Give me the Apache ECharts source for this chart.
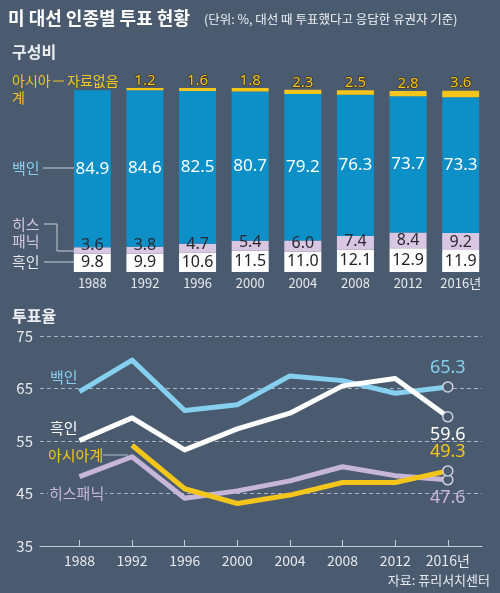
<!DOCTYPE html>
<html><head><meta charset="utf-8">
<script src="https://cdn.jsdelivr.net/npm/echarts@6/dist/echarts.min.js"></script>
<style>html,body{margin:0;padding:0;background:#4a5b70;}#c{width:500px;height:593px;}</style>
</head><body><div id="c"></div>
<script>
// ---- Data ----
const years = ['1988','1992','1996','2000','2004','2008','2012','2016'];
const yearLabels = ['1988','1992','1996','2000','2004','2008','2012','2016년'];
// 구성비 (composition, %)
const compBlack    = [9.8, 9.9, 10.6, 11.5, 11.0, 12.1, 12.9, 11.9];
const compHispanic = [3.6, 3.8, 4.7, 5.4, 6.0, 7.4, 8.4, 9.2];
const compWhite    = [84.9, 84.6, 82.5, 80.7, 79.2, 76.3, 73.7, 73.3];
const compAsian    = [null, 1.2, 1.6, 1.8, 2.3, 2.5, 2.8, 3.6];
// 투표율 (turnout, %)
const turnYears    = [1988, 1992, 1996, 2000, 2004, 2008, 2012, 2016];
const turnWhite    = [64.4, 70.4, 60.8, 61.9, 67.4, 66.5, 64.1, 65.3];
const turnBlack    = [55.1, 59.4, 53.3, 57.3, 60.3, 65.5, 66.9, 59.6];
const turnAsian    = [null, 54.2, 45.9, 43.1, 44.7, 47.1, 47.1, 49.3];
const turnHispanic = [48.2, 52.0, 44.1, 45.5, 47.4, 50.1, 48.4, 47.6];

const BG = '#4a5b70';
const FONT = '"Noto Sans CJK KR","Noto Sans",sans-serif';
const NUMFONT = '"Noto Sans","Noto Sans CJK KR",sans-serif';
const C_BLUE_BAR = '#0d8fc8', C_YEL = '#f4c51b', C_PINK_BAR = '#d9c6e2';
const C_LBLUE = '#86cfee', C_PINK = '#c8b6da';
const fmt1 = p => (p.value == null ? '' : Number(p.value).toFixed(1));

function lineData(vals, lastLabel) {
  return vals.map((v, i) => {
    if (v === null) return [turnYears[i], null];
    if (i === vals.length - 1) {
      return { value: [turnYears[i], v], symbol: 'circle', label: Object.assign({ show: true, formatter: v.toFixed(1) }, lastLabel) };
    }
    return { value: [turnYears[i], v], symbol: 'none' };
  });
}
function lineSeries(name, vals, color, lastLabel) {
  return {
    name, type: 'line', xAxisIndex: 1, yAxisIndex: 1,
    data: lineData(vals, Object.assign({ color: color, fontSize: 18, fontFamily: NUMFONT }, lastLabel)),
    lineStyle: { color: color, width: 5, join: 'round' },
    symbolSize: 10,
    itemStyle: { color: BG, borderColor: '#cfd0da', borderWidth: 1.5 },
    connectNulls: false, animation: false, z: 3
  };
}

const chart = echarts.init(document.getElementById('c'), null, { renderer: 'canvas' });
const txt = (x, y, text, fill, size, extra) => ({ type: 'text', x, y, style: Object.assign({ text, fill, fontSize: size, fontFamily: FONT, verticalAlign: 'middle' }, extra || {}), z: 10 });
const ln = (pts, stroke) => ({ type: 'polyline', shape: { points: pts }, style: { stroke, lineWidth: 1, fill: null }, z: 10 });

chart.setOption({
  backgroundColor: BG,
  animation: false,
  textStyle: { fontFamily: FONT },
  grid: [
    { left: 66, width: 421, top: 87, height: 185 },
    { left: 40, right: 18, top: 336, height: 210 }
  ],
  xAxis: [
    { type: 'category', gridIndex: 0, data: years, axisLine: { show: false }, axisTick: { show: false },
      axisLabel: { color: '#e6e8ec', fontSize: 13, margin: 5, interval: 0, formatter: (v, i) => yearLabels[i] } },
    { type: 'value', gridIndex: 1, min: 1985, max: 2018.6, splitLine: { show: false },
      axisLine: { show: true, lineStyle: { color: '#c9ced6', width: 1 } },
      axisTick: { show: true, inside: true, length: 6, customValues: turnYears, lineStyle: { color: '#c9ced6' } },
      axisLabel: { color: '#e6e8ec', fontSize: 14, margin: 8, customValues: turnYears, formatter: v => (v === 2016 ? '2016년' : String(v)) } }
  ],
  yAxis: [
    { type: 'value', gridIndex: 0, min: 0, max: 100, show: false },
    { type: 'value', gridIndex: 1, min: 35, max: 75, interval: 10,
      axisLine: { show: false }, axisTick: { show: false },
      axisLabel: { color: '#e6e8ec', fontSize: 15, margin: 7 },
      splitLine: { show: true, lineStyle: { color: '#aab4c2', type: [4, 3], width: 1 } } }
  ],
  series: [
    { name: '흑인', type: 'bar', stack: 'c', barWidth: 37, data: compBlack, itemStyle: { color: '#ffffff' },
      label: { show: true, position: 'inside', color: '#222', fontSize: 16, fontFamily: NUMFONT, formatter: fmt1 } },
    { name: '히스패닉', type: 'bar', stack: 'c', data: compHispanic, itemStyle: { color: C_PINK_BAR },
      label: { show: true, position: 'insideBottom', distance: 0, color: '#2a2a30', fontSize: 16, fontFamily: NUMFONT, formatter: fmt1 } },
    { name: '백인', type: 'bar', stack: 'c', data: compWhite, itemStyle: { color: C_BLUE_BAR },
      label: { show: true, position: 'inside', color: '#ffffff', fontSize: 17, fontFamily: NUMFONT, formatter: fmt1 } },
    { name: '아시아계', type: 'bar', stack: 'c', data: compAsian, itemStyle: { color: C_YEL },
      label: { show: true, position: 'top', distance: 0, color: C_YEL, fontSize: 15, fontFamily: NUMFONT, textBorderColor: '#3a3326', textBorderWidth: 1.5, formatter: fmt1 } },
    lineSeries('히스패닉', turnHispanic, C_PINK, { position: 'bottom', distance: 3 }),
    lineSeries('아시아계', turnAsian, C_YEL, { position: 'top', distance: 4 }),
    lineSeries('백인', turnWhite, C_LBLUE, { position: 'top', distance: 4 }),
    lineSeries('흑인', turnBlack, '#ffffff', { position: 'bottom', distance: 3 })
  ],
  graphic: [
    txt(8, 18, '미 대선 인종별 투표 현황', '#ffffff', 18, { fontWeight: 'bold' }),
    txt(204, 19, '(단위: %, 대선 때 투표했다고 응답한 유권자 기준)', '#f0f2f5', 12.5),
    txt(12, 52, '구성비', '#eceef2', 16, { fontWeight: 'bold' }),
    txt(12, 81, '아시아', C_YEL, 14),
    txt(12, 98, '계', C_YEL, 14),
    ln([[53, 81], [64, 81]], C_YEL),
    txt(67, 81, '자료없음', C_YEL, 14),
    txt(12, 168, '백인', C_LBLUE, 15),
    ln([[43, 168], [74, 168]], '#c9ced6'),
    txt(12, 224, '히스', '#d2c6dc', 15),
    txt(12, 241, '패닉', '#d2c6dc', 15),
    ln([[44, 224], [57, 224], [57, 251], [74, 251]], '#c9ced6'),
    txt(12, 262, '흑인', '#e6e8ec', 15),
    ln([[44, 262], [74, 262]], '#c9ced6'),
    txt(12, 316, '투표율', '#eceef2', 16, { fontWeight: 'bold' }),
    txt(50, 377, '백인', C_LBLUE, 15),
    txt(50, 428, '흑인', '#ffffff', 15),
    txt(48, 455, '아시아계', C_YEL, 15),
    ln([[103, 455], [128, 455]], '#b8bfca'),
    txt(48, 493, '히스패닉', C_PINK, 15, { backgroundColor: BG, padding: [0, 1] }),
    txt(490, 580, '자료: 퓨리서치센터', '#e6e8ec', 13, { align: 'right' })
  ]
});
</script></body></html>
